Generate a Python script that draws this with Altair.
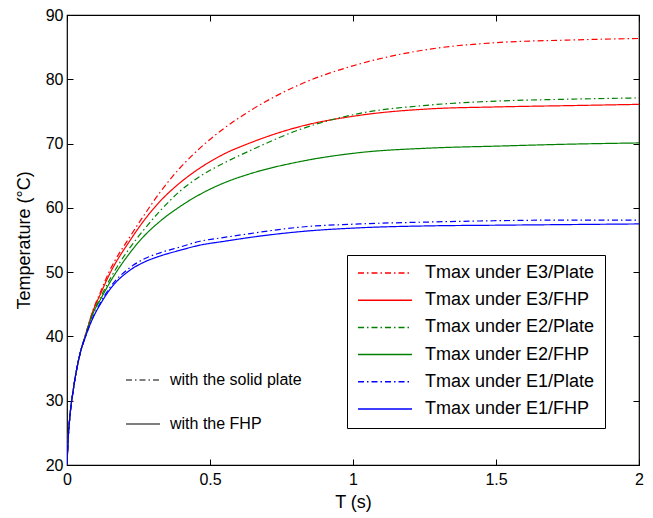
import altair as alt
import pandas as pd

# time (s)
T = [0, 0.004, 0.01, 0.022, 0.045, 0.065, 0.092, 0.115, 0.15, 0.22, 0.267,
     0.325, 0.395, 0.465, 0.55, 0.64, 0.815, 1.024, 1.27, 1.5, 1.75, 2.0]

E3_PLATE = [20, 24, 27.5, 31.7, 37.2, 40.3, 44.2, 46.7, 50.3, 55.5, 58.7,
            62.4, 66.2, 69.3, 72.4, 75.1, 79.2, 82.4, 84.7, 85.7, 86.1, 86.35]
E3_FHP = [20, 24, 27.5, 31.7, 37.2, 40.3, 44.1, 46.4, 49.8, 54.9, 57.9,
          61.0, 63.9, 66.2, 68.4, 70.1, 72.65, 74.4, 75.4, 75.7, 75.9, 76.1]
E2_PLATE = [20, 24, 27.5, 31.7, 37.2, 40.2, 43.8, 45.9, 48.9, 53.8, 56.5,
            59.5, 62.6, 64.9, 67.0, 68.9, 72.2, 74.7, 76.0, 76.6, 76.9, 77.1]
E2_FHP = [20, 24, 27.5, 31.7, 37.2, 40.2, 43.7, 45.6, 48.4, 53.0, 55.5,
          57.9, 60.2, 62.1, 63.9, 65.3, 67.2, 68.6, 69.3, 69.6, 69.9, 70.1]
E1_PLATE = [20, 24, 27.5, 31.7, 37.2, 40.0, 43.1, 45.1, 47.6, 50.7, 52.0,
            53.0, 53.9, 54.8, 55.4, 56.0, 57.0, 57.5, 57.8, 58.0, 58.1, 58.1]
E1_FHP = [20, 24, 27.5, 31.7, 37.2, 40.0, 43.0, 44.9, 47.3, 50.3, 51.5,
          52.5, 53.4, 54.2, 54.8, 55.4, 56.3, 56.9, 57.2, 57.3, 57.4, 57.5]

SERIES = ["Tmax under E3/Plate", "Tmax under E3/FHP",
          "Tmax under E2/Plate", "Tmax under E2/FHP",
          "Tmax under E1/Plate", "Tmax under E1/FHP"]
VALUES = [E3_PLATE, E3_FHP, E2_PLATE, E2_FHP, E1_PLATE, E1_FHP]
KIND_OF = ["with the solid plate", "with the FHP"] * 3
COLORS = ["#ff0000", "#ff0000", "#008000", "#008000", "#0000ff", "#0000ff"]
DASH_DOT = [6, 3, 1.5, 3]
SOLID = [1, 0]
DASHES = [DASH_DOT, SOLID] * 3
KINDS = ["with the solid plate", "with the FHP"]

X_TICKS = [0, 0.5, 1, 1.5, 2]
Y_TICKS = [20, 30, 40, 50, 60, 70, 80, 90]

rows = []
for name, kind, vals in zip(SERIES, KIND_OF, VALUES):
    for t, v in zip(T, vals):
        rows.append({"t": t, "v": v, "series": name, "kind": kind})
df = pd.DataFrame(rows)

FONT = "Liberation Sans"
xscale = alt.Scale(domain=[0, 2], nice=False, zero=False)
yscale = alt.Scale(domain=[20, 90], nice=False, zero=False)

main_legend = alt.Legend(
    title=None, orient="none", legendX=280, legendY=240, padding=10,
    fillColor="white", strokeColor="black", symbolType="stroke",
    symbolSize=2916, symbolStrokeWidth=1.5, labelFontSize=18, labelFont=FONT,
    labelColor="black", labelOffset=12, clipHeight=16, rowPadding=9.2,
    labelLimit=400,
)

lines = alt.Chart(df).mark_line(strokeWidth=1.2, interpolate="monotone", clip=True).encode(
    x=alt.X("t:Q", scale=xscale, axis=alt.Axis(
        orient="bottom", values=X_TICKS, format="~g", title="T (s)", offset=-6,
        tickSize=6, domain=False, grid=False, labelPadding=6, titlePadding=6,
        labelFontSize=16, titleFontSize=18, labelFont=FONT, titleFont=FONT,
        labelColor="black", tickColor="black", titleColor="black",
        titleFontWeight="normal", labelFlush=False)),
    y=alt.Y("v:Q", scale=yscale, axis=alt.Axis(
        orient="left", values=Y_TICKS, title="Temperature (°C)", offset=-6,
        tickSize=6, domain=False, grid=False, labelPadding=4, titlePadding=12,
        labelFontSize=16, titleFontSize=18, labelFont=FONT, titleFont=FONT,
        labelColor="black", tickColor="black", titleColor="black",
        titleFontWeight="normal", labelFlush=False)),
    color=alt.Color("series:N", scale=alt.Scale(domain=SERIES, range=COLORS), legend=main_legend),
    strokeDash=alt.StrokeDash("series:N", scale=alt.Scale(domain=SERIES, range=DASHES), legend=main_legend),
)

key = alt.Chart(df).transform_filter("false").mark_line(color="black", strokeWidth=1.2).encode(
    x=alt.X("t:Q", scale=xscale, axis=alt.Axis(
        orient="top", values=X_TICKS, title=None, offset=-6, tickSize=6,
        domain=False, grid=False, labels=False, tickColor="black")),
    y=alt.Y("v:Q", scale=yscale, axis=alt.Axis(
        orient="right", values=Y_TICKS, title=None, offset=-6, tickSize=6,
        domain=False, grid=False, labels=False, tickColor="black")),
    strokeDash=alt.StrokeDash("kind:N", scale=alt.Scale(domain=KINDS, range=[DASH_DOT, SOLID]),
                              legend=alt.Legend(
                                  title=None, orient="none", legendX=58, legendY=357,
                                  padding=0, symbolType="stroke", symbolSize=1156,
                                  symbolStrokeColor="black", symbolStrokeWidth=1.2,
                                  labelFontSize=16, labelFont=FONT, labelColor="black",
                                  labelOffset=9, clipHeight=16, rowPadding=28,
                                  labelLimit=400)),
)

chart = alt.layer(lines, key).resolve_scale(
    strokeDash="independent", color="independent"
).resolve_axis(x="independent", y="independent").properties(
    width=572, height=450, autosize="none",
    padding={"left": 59, "top": 7, "right": 6, "bottom": 60},
).configure_view(stroke="black", strokeWidth=1.2)

chart.save("out.html", embed_options={"renderer": "svg", "actions": False})
